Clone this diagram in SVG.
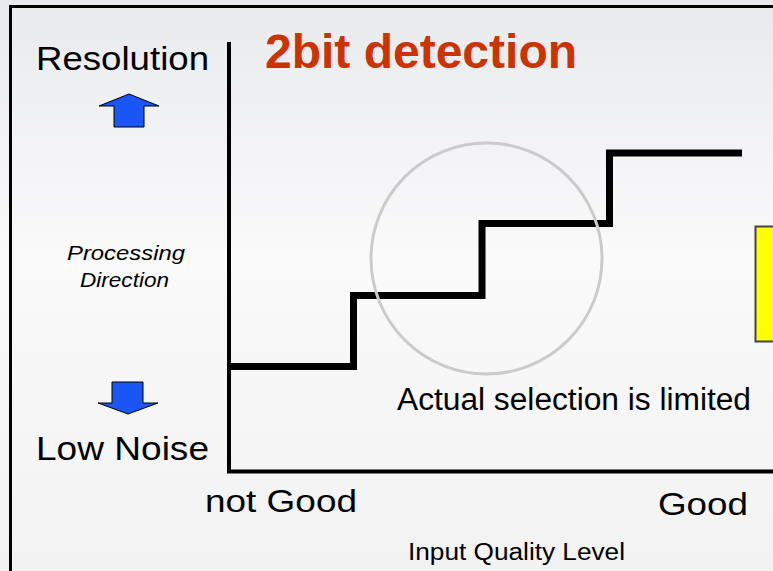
<svg xmlns="http://www.w3.org/2000/svg" width="773" height="571" viewBox="0 0 773 571">
  <defs>
    <linearGradient id="bg" x1="0" y1="0" x2="0" y2="1">
      <stop offset="0" stop-color="#e9eaed"/>
      <stop offset="0.45" stop-color="#fafafb"/>
      <stop offset="1" stop-color="#f2f2f3"/>
    </linearGradient>
    <style>
      .lbl { font-family: "Liberation Sans", Arial, sans-serif; fill: #000; }
      .big { font-size: 34px; }
      .it { font-size: 21px; font-style: italic; }
      .axis { stroke: #000; stroke-width: 4; fill: none; }
      .step { stroke: #000; stroke-width: 7; fill: none; stroke-linejoin: miter; }
      .arrow { fill: #1a56f5; stroke: #000; stroke-width: 1; }
    </style>
  </defs>

  <!-- page background and frame -->
  <rect x="0" y="0" width="773" height="571" fill="url(#bg)"/>
  <path d="M10.5 580 V6.5 H780" fill="none" stroke="#000" stroke-width="3"/>

  <!-- title -->
  <text x="265" y="68" class="lbl" style="font-size:48px;font-weight:bold;fill:#cc3300">2bit detection</text>

  <!-- left side labels -->
  <g id="resolution">
    <text x="36" y="70" class="lbl big" textLength="173" lengthAdjust="spacingAndGlyphs">Resolution</text>
    <polygon class="arrow" points="129,94 159,106 144,106 144,127 114,127 114,106 99,106"/>
  </g>
  <g id="processing-direction">
    <text x="67" y="260" class="lbl it" textLength="118" lengthAdjust="spacingAndGlyphs">Processing</text>
    <text x="80" y="287" class="lbl it" textLength="89" lengthAdjust="spacingAndGlyphs">Direction</text>
  </g>
  <g id="low-noise">
    <polygon class="arrow" points="112,382 143,382 143,403 158,403 128,414 98,403 112,403"/>
    <text x="36" y="460" class="lbl big" textLength="173" lengthAdjust="spacingAndGlyphs">Low Noise</text>
  </g>

  <!-- axes -->
  <g id="axes">
    <path class="axis" d="M229 42 V471.5 H773"/>
  </g>

  <!-- quantisation steps -->
  <g id="connectors">
    <path class="step" d="M227 366.5 H353.5 V295.5 H482 V223.5 H609.5 V153 H742"/>
  </g>

  <!-- highlight circle -->
  <g id="highlight">
    <circle cx="486.5" cy="258.5" r="115.5" fill="none" stroke="#cbcbcb" stroke-width="3"/>
  </g>

  <!-- side note box -->
  <g id="note-box">
    <rect x="755.5" y="226.5" width="30" height="115" fill="#ffff00" stroke="#444" stroke-width="2"/>
  </g>

  <g id="caption">
    <text x="397" y="410" class="lbl" style="font-size:31px" textLength="354" lengthAdjust="spacingAndGlyphs">Actual selection is limited</text>
  </g>

  <!-- x axis labels -->
  <g id="x-labels">
    <text x="205" y="512" class="lbl" style="font-size:31px" textLength="152" lengthAdjust="spacingAndGlyphs">not Good</text>
    <text x="658" y="515" class="lbl" style="font-size:31px" textLength="90" lengthAdjust="spacingAndGlyphs">Good</text>
    <text x="408" y="560" class="lbl" style="font-size:23px" textLength="217" lengthAdjust="spacingAndGlyphs">Input Quality Level</text>
  </g>
</svg>
